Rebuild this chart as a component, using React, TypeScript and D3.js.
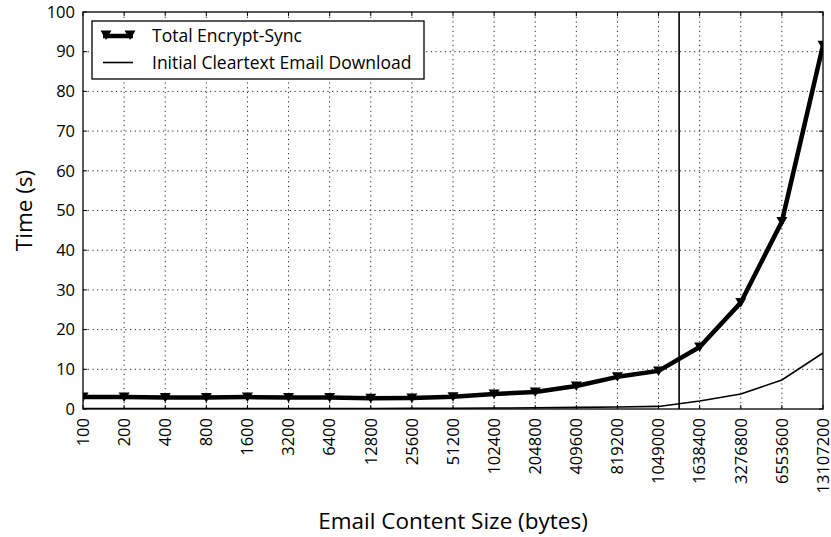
import React from "react";
import * as d3 from "d3";

const categories = ["100","200","400","800","1600","3200","6400","12800","25600","51200","102400","204800","409600","819200","1049000","1638400","3276800","6553600","13107200"];
const totalEncryptSync = [3.0,3.0,2.9,2.9,3.0,2.9,2.9,2.7,2.8,3.1,3.8,4.3,5.8,8.1,9.6,15.6,26.8,47.2,91.6];
const cleartextDownload = [0.1,0.1,0.1,0.1,0.1,0.1,0.1,0.1,0.15,0.2,0.25,0.3,0.4,0.5,0.65,2.0,3.8,7.3,14.1];
const yTicks = [0,10,20,30,40,50,60,70,80,90,100];
const seriesNames = ["Total Encrypt-Sync", "Initial Cleartext Email Download"];
const dividerAfterIndex = 14;

const W = 831, H = 537;
const L = 83, R = 823, T = 12, B = 409;
const FONT = "'Open Sans', 'DejaVu Sans', sans-serif";

export default function App() {
  const x = d3.scalePoint<string>().domain(categories).range([L, R]);
  const y = d3.scaleLinear().domain([0, 100]).range([B, T]);
  const line = d3.line<number>().x((_, i) => x(categories[i])!).y(d => y(d));
  const tri = (cx: number, cy: number) => `M${cx - 5.5},${cy - 4.5}L${cx + 5.5},${cy - 4.5}L${cx},${cy + 5}Z`;
  const divX = (x(categories[dividerAfterIndex])! + x(categories[dividerAfterIndex + 1])!) / 2;
  return (
    <div style={{ position: "fixed", left: 0, top: 0 }}>
      <svg width={W} height={H} style={{ display: "block", background: "#fff" }} fontFamily={FONT}>
        <defs>
          <clipPath id="plot"><rect x={L} y={T} width={R - L} height={B - T} /></clipPath>
        </defs>
        <rect x={0} y={0} width={W} height={H} fill="#fff" />
        {/* grid */}
        <g stroke="#000" strokeWidth={1} strokeDasharray="1.2,3.5" opacity={0.85}>
          {yTicks.slice(1, -1).map(t => <line key={"gy" + t} x1={L} x2={R} y1={y(t)} y2={y(t)} />)}
          {categories.slice(1, -1).map(c => <line key={"gx" + c} x1={x(c)} x2={x(c)} y1={T} y2={B} />)}
        </g>
        <g clipPath="url(#plot)">
          <path d={line(cleartextDownload) || ""} fill="none" stroke="#000" strokeWidth={1.6} />
          <path d={line(totalEncryptSync) || ""} fill="none" stroke="#000" strokeWidth={4.5} strokeLinejoin="round" />
          {totalEncryptSync.map((v, i) => <path key={"m" + i} d={tri(x(categories[i])!, y(v))} fill="#000" />)}
        </g>
        <line x1={divX} x2={divX} y1={T} y2={B} stroke="#000" strokeWidth={1.6} />
        {/* frame */}
        <rect x={L} y={T} width={R - L} height={B - T} fill="none" stroke="#000" strokeWidth={1.3} />
        {/* ticks */}
        <g stroke="#000" strokeWidth={1}>
          {yTicks.map(t => (
            <g key={"ty" + t}>
              <line x1={L} x2={L + 4} y1={y(t)} y2={y(t)} />
              <line x1={R - 4} x2={R} y1={y(t)} y2={y(t)} />
            </g>
          ))}
          {categories.map(c => (
            <g key={"tx" + c}>
              <line x1={x(c)} x2={x(c)} y1={B} y2={B - 4} />
              <line x1={x(c)} x2={x(c)} y1={T} y2={T + 4} />
            </g>
          ))}
        </g>
        {yTicks.map(t => (
          <text key={"ly" + t} x={L - 8} y={y(t)} dy="0.35em" textAnchor="end" fontSize={16.5} fill="#000">{t}</text>
        ))}
        {categories.map(c => (
          <text key={"lx" + c} transform={`translate(${x(c)},${B + 9}) rotate(-90)`} dy="0.35em" textAnchor="end" fontSize={16.5} fill="#000">{c}</text>
        ))}
        <text transform={`translate(${24},${(T + B) / 2}) rotate(-90)`} dy="0.35em" textAnchor="middle" fontSize={22.5} fill="#000">Time (s)</text>
        <text x={(L + R) / 2} y={529} textAnchor="middle" fontSize={22.5} fill="#000">Email Content Size (bytes)</text>
        {/* legend */}
        <rect x={92} y={21} width={332} height={58} fill="#fff" stroke="#000" strokeWidth={1.3} />
        <line x1={103} x2={133} y1={36} y2={36} stroke="#000" strokeWidth={4.5} />
        <path d={tri(106, 35)} fill="#000" />
        <path d={tri(130, 35)} fill="#000" />
        <text x={152} y={36} dy="0.35em" fontSize={17.5} fill="#000">{seriesNames[0]}</text>
        <line x1={103} x2={133} y1={62.5} y2={62.5} stroke="#000" strokeWidth={1.6} />
        <text x={152} y={62.5} dy="0.35em" fontSize={17.5} fill="#000">{seriesNames[1]}</text>
      </svg>
    </div>
  );
}
